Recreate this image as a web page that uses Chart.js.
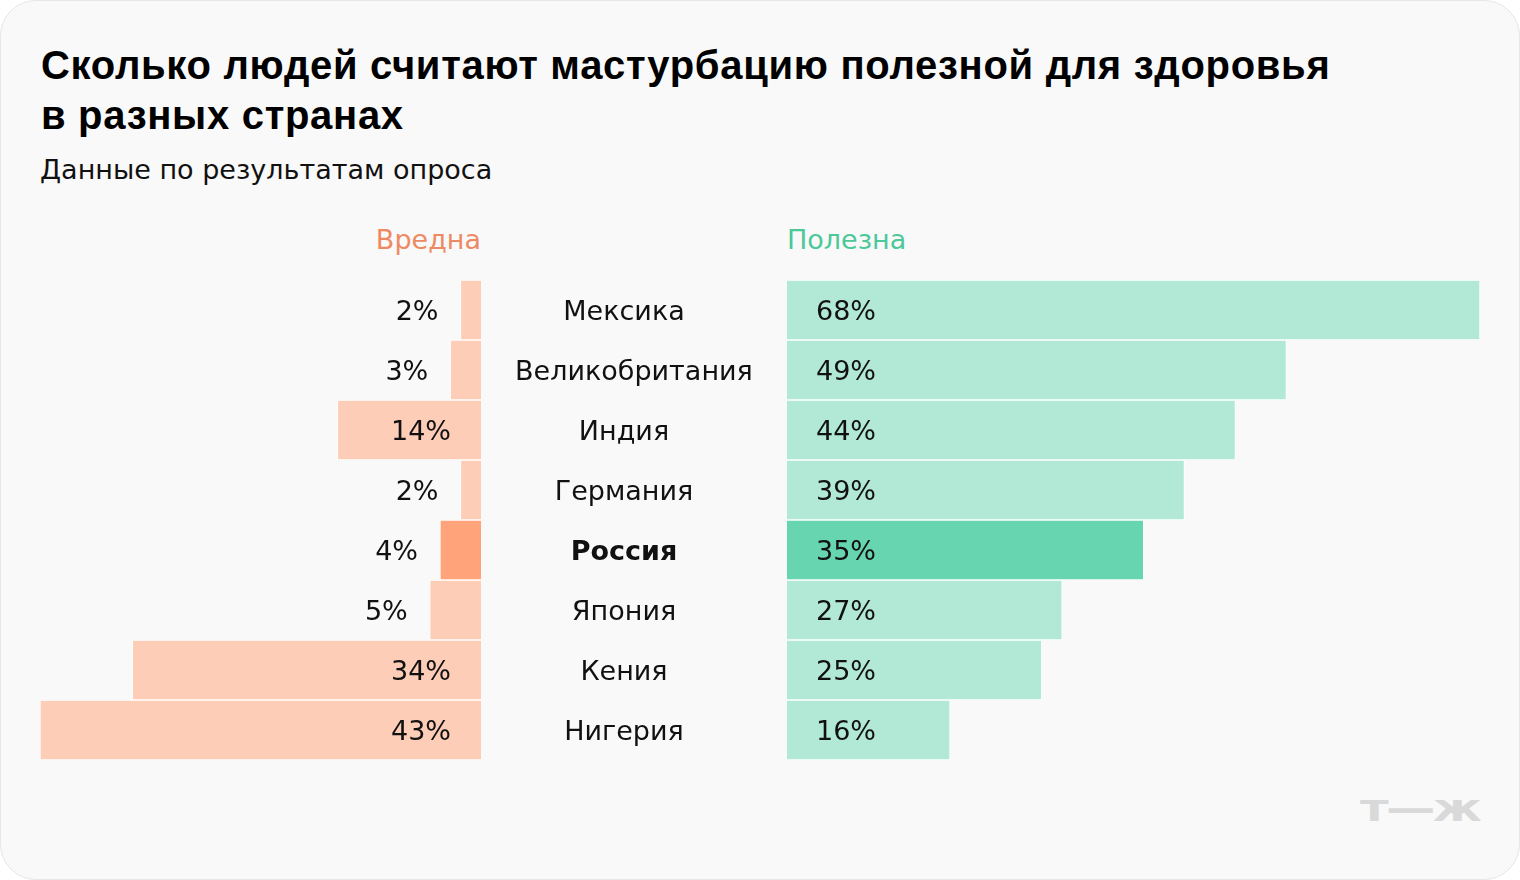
<!DOCTYPE html>
<html><head><meta charset="utf-8">
<script src="https://cdn.jsdelivr.net/npm/chart.js@4/dist/chart.umd.min.js"></script>
<style>
html,body{margin:0;padding:0;background:#fff;width:1520px;height:880px;overflow:hidden;font-family:"DejaVu Sans",sans-serif;}
.card{position:absolute;left:0;top:0;width:1518px;height:878px;border:1px solid #e6e6e6;border-radius:36px;background:#f9f9f9;}
.title{position:absolute;left:41px;top:40px;font-weight:700;font-size:40px;line-height:50px;color:#000;white-space:nowrap;font-family:"Liberation Sans",Arial,sans-serif;letter-spacing:0.7px;}
.sub{position:absolute;left:40px;top:152px;font-size:27px;line-height:36px;color:#111;white-space:nowrap;}
.hdr{position:absolute;top:222px;font-size:27px;line-height:36px;white-space:nowrap;}
.logo{position:absolute;left:1360px;top:788px;font-family:"DejaVu Sans",sans-serif;font-weight:700;font-size:38px;line-height:40px;color:#d9d9d9;white-space:nowrap;letter-spacing:-2px;transform:scaleX(1.3);transform-origin:0 0;}
canvas{position:absolute;}
</style></head>
<body>
<div class="card"></div>
<div class="title">Сколько людей считают мастурбацию полезной для здоровья<br>в разных странах</div>
<div class="sub">Данные по результатам опроса</div>
<div class="hdr" id="hL" style="right:1039px;color:#ee8a63;">Вредна</div>
<div class="hdr" id="hR" style="left:787px;color:#4cc899;">Полезна</div>
<div class="logo">т—ж</div>
<canvas id="left" width="481" height="480" style="left:0;top:280px;"></canvas>
<canvas id="right" width="1039" height="480" style="left:481px;top:280px;"></canvas>
<script>
const countries = ['Мексика','Великобритания','Индия','Германия','Россия','Япония','Кения','Нигерия'];
const harmful = [2, 3, 14, 2, 4, 5, 34, 43];
const useful = [68, 49, 44, 39, 35, 27, 25, 16];
const highlight = 'Россия';

const FONT = '"DejaVu Sans", sans-serif';
const leftColors = countries.map(c => c === highlight ? '#ffa37a' : '#fdcdb8');
const rightColors = countries.map(c => c === highlight ? '#66d5b0' : '#b2e8d6');

const leftLabels = {
  id: 'leftLabels',
  afterDatasetsDraw(chart) {
    const ctx = chart.ctx;
    const meta = chart.getDatasetMeta(0);
    ctx.save();
    ctx.font = '27px ' + FONT;
    ctx.fillStyle = '#111';
    ctx.textAlign = 'right';
    ctx.textBaseline = 'alphabetic';
    meta.data.forEach((bar, i) => {
      const w = bar.base - bar.x;
      const txt = harmful[i] + '%';
      const x = w > 90 ? bar.base - 30 : bar.x - 22;
      ctx.fillText(txt, x, bar.y + 10);
    });
    ctx.restore();
  }
};

const rightLabels = {
  id: 'rightLabels',
  afterDatasetsDraw(chart) {
    const ctx = chart.ctx;
    const meta = chart.getDatasetMeta(0);
    ctx.save();
    ctx.fillStyle = '#111';
    ctx.textBaseline = 'alphabetic';
    meta.data.forEach((bar, i) => {
      ctx.font = '27px ' + FONT;
      ctx.textAlign = 'left';
      ctx.fillText(useful[i] + '%', bar.base + 29, bar.y + 10);
      const name = countries[i];
      ctx.font = (name === highlight ? 'bold ' : '') + '27px ' + FONT;
      const w = ctx.measureText(name).width;
      if (w > 218) {
        ctx.textAlign = 'left';
        ctx.fillText(name, 34, bar.y + 10);
      } else {
        ctx.textAlign = 'center';
        ctx.fillText(name, 143, bar.y + 10);
      }
    });
    ctx.restore();
  }
};

function makeChart(id, values, colors, reverse, max, padding, plugin) {
  return new Chart(document.getElementById(id), {
    type: 'bar',
    data: {
      labels: countries,
      datasets: [{
        data: values,
        backgroundColor: colors,
        borderColor: '#ffffff',
        borderWidth: 1,
        borderSkipped: 'start',
        categoryPercentage: 1,
        barPercentage: 1
      }]
    },
    options: {
      indexAxis: 'y',
      responsive: false,
      animation: false,
      devicePixelRatio: 1,
      layout: { padding: padding },
      scales: {
        x: { display: false, reverse: reverse, min: 0, max: max },
        y: { display: false }
      },
      plugins: { legend: { display: false }, tooltip: { enabled: false } }
    },
    plugins: [plugin]
  });
}

makeChart('left', harmful, leftColors, true, 43, { left: 40, right: 0, top: 0, bottom: 0 }, leftLabels);
makeChart('right', useful, rightColors, false, 68, { left: 306, right: 40, top: 0, bottom: 0 }, rightLabels);
</script>
</body></html>
